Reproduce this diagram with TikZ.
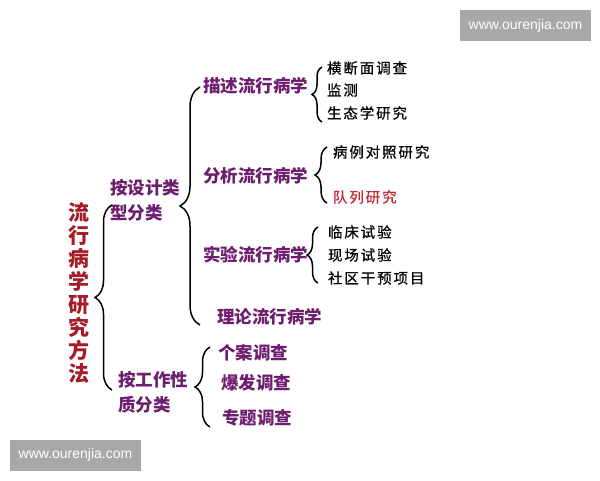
\documentclass[tikz,border=0pt]{standalone}
\usepackage{fontspec}
\usetikzlibrary{decorations.pathreplacing}
\newfontfamily\cjk{Noto Sans CJK SC}
\newfontfamily\cjkls{Noto Sans CJK SC}[LetterSpace=13,FakeBold=0.6]
\setsansfont{Liberation Sans}
\definecolor{ppl}{RGB}{110,30,110}
\definecolor{ttl}{RGB}{165,28,40}
\definecolor{rd}{RGB}{190,40,50}
\definecolor{wm}{RGB}{168,168,168}
\begin{document}
\begin{tikzpicture}[x=1pt,y=-1pt,
  pt/.style={inner sep=0pt,outer sep=0pt,anchor=west,text=ppl,font=\cjk\bfseries\fontsize{17.5}{25}\selectfont,align=left},
  leaf/.style={inner sep=0pt,outer sep=0pt,anchor=west,text=black,font=\cjkls\fontsize{14.5}{16}\selectfont},
  ttlstyle/.style={inner sep=0pt,outer sep=0pt,text=ttl,font=\cjk\bfseries\fontsize{21}{23}\selectfont,align=center},
  brc/.style={draw=black,line width=1.5pt,decorate,decoration={brace,amplitude=#1}},
  wmark/.style={fill=wm,text=white,inner sep=0pt,font=\sffamily\fontsize{14}{16}\selectfont,minimum width=131pt,minimum height=31pt}]
\useasboundingbox (0,0) rectangle (600,480);
\fill[white] (0,0) rectangle (600,480);

% watermarks
\node[wmark] (wm1) at (525.5,25.5) {www.ourenjia.com};
\node[wmark] (wm2) at (75.5,455) {www.ourenjia.com};

% title
\node[ttlstyle] (title) at (79,293) {流\\行\\病\\学\\研\\究\\方\\法};

% level 1
\node[pt] (design) at (110,200.5) {按设计类\\型分类};
\node[pt] (work) at (118,392.5) {按工作性\\质分类};

% level 2 (design)
\node[pt] (desc) at (203,86) {描述流行病学};
\node[pt] (anal) at (203,176) {分析流行病学};
\node[pt] (expt) at (203,255) {实验流行病学};
\node[pt] (theo) at (217,317) {理论流行病学};

% level 2 (work)
\node[pt] (case) at (218,353) {个案调查};
\node[pt] (outb) at (221,383) {爆发调查};
\node[pt] (topic) at (222,418) {专题调查};

% leaves
\node[leaf] (l1) at (327,68) {横断面调查};
\node[leaf] (l2) at (327,90) {监测};
\node[leaf] (l3) at (327,113) {生态学研究};
\node[leaf] (l4) at (333,152) {病例对照研究};
\node[leaf,text=rd] (l5) at (333,197) {队列研究};
\node[leaf] (l6) at (328,232) {临床试验};
\node[leaf] (l7) at (328,255) {现场试验};
\node[leaf] (l8) at (328,278) {社区干预项目};

% braces
\coordinate (b0t) at (112,205); \coordinate (b0b) at (112,390);
\coordinate (b1t) at (200,87);  \coordinate (b1b) at (200,325);
\coordinate (b2t) at (322,67);  \coordinate (b2b) at (322,122);
\coordinate (b3t) at (327,147); \coordinate (b3b) at (327,203);
\coordinate (b4t) at (318,227); \coordinate (b4b) at (318,283);
\coordinate (b5t) at (210,347); \coordinate (b5b) at (210,427);
\draw[brc=17pt] (b0b) -- (b0t);
\draw[brc=20pt] (b1b) -- (b1t);
\draw[brc=10pt] (b2b) -- (b2t);
\draw[brc=12pt] (b3b) -- (b3t);
\draw[brc=11pt] (b4b) -- (b4t);
\draw[brc=15pt] (b5b) -- (b5t);
\end{tikzpicture}
\end{document}
